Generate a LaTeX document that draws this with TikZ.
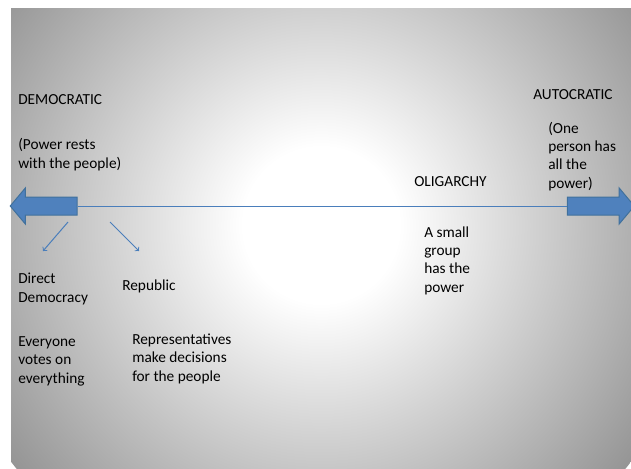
\documentclass[tikz,border=0pt]{standalone}
\usepackage{fontspec}
\setmainfont{Carlito}
\usetikzlibrary{shapes.arrows}
\definecolor{armblue}{HTML}{4F81BD}
\definecolor{armedge}{HTML}{41719C}
\definecolor{lineblue}{HTML}{4A7EBB}
\definecolor{bggray}{HTML}{959595}
\pgfdeclareradialshading{backdrop}{\pgfpoint{0bp}{0bp}}{color(0bp)=(white); color(5bp)=(white); color(25bp)=(bggray); color(50bp)=(bggray)}

\begin{document}
\begin{tikzpicture}[x=0.75pt,y=-0.75pt,
  txt/.style={font=\fontsize{11.5}{13.7}\selectfont, align=left, anchor=base west, inner sep=0pt},
  bigarrow/.style={single arrow, draw=armedge, fill=armblue, line width=0.75pt,
    inner xsep=0pt, inner ysep=6.375pt, minimum height=50.25pt,
    single arrow head extend=6.75pt, single arrow tip angle=100},
  thin/.style={draw=lineblue, line width=0.75pt},
  pointer/.style={thin, ->}]
\useasboundingbox (0,0) rectangle (631,468);
\begin{scope}
\clip (11,8) rectangle (631,468);
\shade[shading=backdrop] (321,225) circle (390);
\end{scope}

% the two ends of the scale
\node[bigarrow, shape border rotate=180] (demo) at (47.5,206) {};
\node[bigarrow] (auto) at (597,206) {};
\draw[thin] (demo.east) -- (auto.west);

% headings (base = last line)
\node[txt] (demohead) at (18,104) {DEMOCRATIC};
\node[txt] (democap) at (18,168) {(Power rests\\with the people)};
\node[txt] (autohead) at (533,99) {AUTOCRATIC};
\node[txt] (autocap) at (548,188) {(One\\person has\\all the\\power)};
\node[txt] (oligo) at (414,186) {OLIGARCHY};
\node[txt] (oligocap) at (424,292) {A small\\group\\has the\\power};

% kinds of democracy
\node[txt] (direct) at (18,302) {Direct\\Democracy};
\node[txt] (republic) at (122,290) {Republic};
\node[txt] (directcap) at (18,383) {Everyone\\votes on\\everything};
\node[txt] (republiccap) at (132,381) {Representatives\\make decisions\\for the people};

\coordinate (s1) at (68,222);
\coordinate (e1) at (43,251);
\coordinate (s2) at (110,222);
\coordinate (e2) at (139,251);
\draw[pointer] (s1) -- (e1);
\draw[pointer] (s2) -- (e2);
\end{tikzpicture}
\end{document}
